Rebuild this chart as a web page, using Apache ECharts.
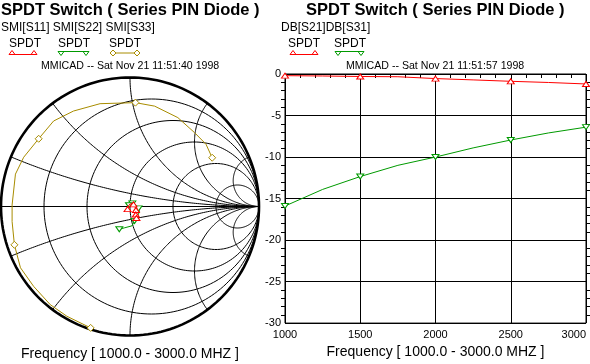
<!DOCTYPE html>
<html><head><meta charset="utf-8">
<script src="https://cdn.jsdelivr.net/npm/echarts@6/dist/echarts.min.js"></script>
<style>html,body{margin:0;padding:0;background:#fff}#c{width:590px;height:364px}</style>
</head><body><div id="c"></div>
<script>
// ---------- data ----------
const freqs = [1000, 1250, 1500, 1750, 2000, 2250, 2500, 2750, 3000];
const dbS21 = [-0.2, -0.24, -0.3, -0.33, -0.55, -0.71, -0.88, -1.02, -1.2];
const dbS31 = [-15.9, -13.9, -12.35, -11.0, -10.0, -8.9, -7.95, -7.1, -6.4];
const freqMarkerIdx = [0, 2, 4, 6, 8];

const xTicks = [1000, 1500, 2000, 2500, 3000];
const yTicks = [0, -5, -10, -15, -20, -25, -30];

// Smith chart traces (reflection coefficient re, im)
const s11Re = [-0.019, -0.008, 0.008, 0.027, 0.039, 0.046, 0.031, 0.045, 0.05];
const s11Im = [-0.020, 0.012, 0.023, 0.016, -0.004, -0.027, -0.043, -0.062, -0.089];
const s11Marker = [0, 3, 5, 7, 8];

const s22Re = [-0.083, -0.045, 0.015, 0.035, 0.058, 0.074, 0.066, 0.043, 0.018, -0.008];
const s22Im = [-0.176, -0.166, -0.150, -0.112, -0.074, -0.040, -0.015, 0.012, 0.024, 0.010];
const s22Marker = [0, 3, 6, 8, 9];

const s33Re = [-0.305, -0.489, -0.618, -0.747, -0.849, -0.896, -0.914, -0.914, -0.888, -0.824, -0.708, -0.592, -0.438, -0.232, 0.042, 0.191, 0.371, 0.500, 0.589, 0.637];
const s33Im = [-0.941, -0.851, -0.761, -0.619, -0.475, -0.297, -0.117, 0.012, 0.251, 0.382, 0.525, 0.663, 0.740, 0.797, 0.805, 0.778, 0.689, 0.573, 0.483, 0.378];
const s33Marker = [0, 5, 10, 14, 19];

// Smith grid values
const smithR = [0, 0.2, 0.5, 1, 2, 5];
const smithX = [0.2, 0.5, 1, 2, 5, -0.2, -0.5, -1, -2, -5];

const RED = '#ff0000', GREEN = '#009a00', OLIVE = '#a88c00';
const FONT = 'Liberation Sans, Arial, sans-serif';

// ---------- build ----------
const gridShapes = [{k: 'h'}];
smithR.forEach(r => gridShapes.push({k: 'r', v: r}));
smithX.forEach(x => gridShapes.push({k: 'x', v: x}));

function shapePts(s) {
  const pts = [];
  if (s.k === 'h') return [[-1, 0], [1, 0]];
  if (s.k === 'r') {
    const c = s.v / (s.v + 1), rad = 1 / (s.v + 1);
    for (let i = 0; i <= 180; i++) {
      const t = i / 180 * 2 * Math.PI;
      pts.push([c + rad * Math.cos(t), rad * Math.sin(t)]);
    }
    return pts;
  }
  const x = Math.abs(s.v), sg = Math.sign(s.v);
  const a = 1 / x;
  const px = (x * x - 1) / (x * x + 1), py = 2 * x / (x * x + 1);
  let tP = Math.atan2(py - a, px - 1);
  const t0 = -Math.PI / 2;
  if (tP > t0) tP -= 2 * Math.PI;
  for (let i = 0; i <= 120; i++) {
    const t = t0 + (tP - t0) * i / 120;
    pts.push([1 + a * Math.cos(t), sg * (a + a * Math.sin(t))]);
  }
  return pts;
}

function zip(re, im) { return re.map((v, i) => [v, im[i]]); }

function markerSym(idx, sym) {
  return (val, p) => idx.indexOf(p.dataIndex) >= 0 ? sym : 'none';
}

const chart = echarts.init(document.getElementById('c'), null, {renderer: 'canvas'});

const TITLE_FONT = 'bold 16.5px ' + FONT;
const option = {
  animation: false,
  backgroundColor: '#fff',
  textStyle: {fontFamily: FONT},
  grid: [
    {left: 1, top: 77.5, width: 258, height: 258, show: false},
    {left: 285, right: 4, top: 74, bottom: 36, show: true, borderColor: '#000', borderWidth: 1, backgroundColor: 'transparent'}
  ],
  xAxis: [
    {gridIndex: 0, type: 'value', min: -1, max: 1, show: false},
    {gridIndex: 1, type: 'value', min: 1000, max: 3000, interval: 500,
     axisLine: {show: false},
     axisTick: {show: false},
     minorTick: {show: true, splitNumber: 5, length: 4, lineStyle: {color: '#000'}},
     axisLabel: {color: '#000', fontSize: 11, fontFamily: FONT, margin: 6, alignMaxLabel: 'right',
       formatter: v => xTicks.indexOf(v) >= 0 ? String(v) : ''},
     splitLine: {show: true, lineStyle: {color: '#000', width: 1}},
     name: 'Frequency [ 1000.0 - 3000.0 MHZ ]', nameLocation: 'middle', nameGap: 20,
     nameTextStyle: {color: '#000', fontSize: 14, fontFamily: FONT}
    }
  ],
  yAxis: [
    {gridIndex: 0, type: 'value', min: -1, max: 1, show: false},
    {gridIndex: 1, type: 'value', min: -30, max: 0, interval: 5,
     axisLine: {show: false}, axisTick: {show: false},
     minorTick: {show: true, splitNumber: 5, length: 4, lineStyle: {color: '#000'}},
     axisLabel: {color: '#000', fontSize: 11, fontFamily: FONT, margin: 4,
       formatter: v => yTicks.indexOf(v) >= 0 ? String(v) : ''},
     splitLine: {show: true, lineStyle: {color: '#000', width: 1}}
    },
    {gridIndex: 1, type: 'value', min: -30, max: 0, interval: 5, position: 'right',
     axisLine: {show: false}, axisTick: {show: false}, axisLabel: {show: false},
     minorTick: {show: true, splitNumber: 5, length: 4, lineStyle: {color: '#000'}},
     splitLine: {show: false}
    }
  ],
  graphic: [
    {type: 'text', left: 1, top: 2, style: {text: 'SPDT Switch ( Series PIN Diode )', font: TITLE_FONT, fill: '#000'}},
    {type: 'text', left: 306, top: 2, style: {text: 'SPDT Switch ( Series PIN Diode )', font: TITLE_FONT, fill: '#000'}},
    {type: 'text', left: 1, top: 22, style: {text: 'SMI[S11] SMI[S22] SMI[S33]', font: '12px ' + FONT, fill: '#000'}},
    {type: 'text', left: 281, top: 22, style: {text: 'DB[S21]DB[S31]', font: '12px ' + FONT, fill: '#000'}},
    {type: 'text', left: 9, top: 38, style: {text: 'SPDT', font: '12px ' + FONT, fill: '#000'}},
    {type: 'text', left: 58, top: 38, style: {text: 'SPDT', font: '12px ' + FONT, fill: '#000'}},
    {type: 'text', left: 109, top: 38, style: {text: 'SPDT', font: '12px ' + FONT, fill: '#000'}},
    {type: 'text', left: 288, top: 38, style: {text: 'SPDT', font: '12px ' + FONT, fill: '#000'}},
    {type: 'text', left: 334, top: 38, style: {text: 'SPDT', font: '12px ' + FONT, fill: '#000'}},
    {type: 'text', left: 41, top: 61, style: {text: 'MMICAD -- Sat Nov 21 11:51:40 1998', font: '10.6px ' + FONT, fill: '#000'}},
    {type: 'text', left: 346, top: 61, style: {text: 'MMICAD -- Sat Nov 21 11:51:57 1998', font: '10.6px ' + FONT, fill: '#000'}},
    {type: 'text', x: 130, y: 354, style: {text: 'Frequency [ 1000.0 - 3000.0 MHZ ]', font: '14px ' + FONT, fill: '#000', textAlign: 'center', textVerticalAlign: 'middle'}},
    // legend samples
    {type: 'polyline', shape: {points: [[9, 54.5], [37, 54.5]]}, style: {stroke: RED, lineWidth: 1}},
    {type: 'polygon', shape: {points: [[9, 54.5], [12, 50.5], [15, 54.5]]}, style: {stroke: RED, fill: '#fff', lineWidth: 1}},
    {type: 'polygon', shape: {points: [[31, 54.5], [34, 50.5], [37, 54.5]]}, style: {stroke: RED, fill: '#fff', lineWidth: 1}},
    {type: 'polyline', shape: {points: [[59, 51.5], [88, 51.5]]}, style: {stroke: GREEN, lineWidth: 1}},
    {type: 'polygon', shape: {points: [[58, 51.5], [61, 55.5], [64, 51.5]]}, style: {stroke: GREEN, fill: '#fff', lineWidth: 1}},
    {type: 'polygon', shape: {points: [[83, 51.5], [86, 55.5], [89, 51.5]]}, style: {stroke: GREEN, fill: '#fff', lineWidth: 1}},
    {type: 'polyline', shape: {points: [[111, 53], [139, 53]]}, style: {stroke: OLIVE, lineWidth: 1}},
    {type: 'polygon', shape: {points: [[110, 53], [113, 50], [116, 53], [113, 56]]}, style: {stroke: OLIVE, fill: '#fff', lineWidth: 1}},
    {type: 'polygon', shape: {points: [[134, 53], [137, 50], [140, 53], [137, 56]]}, style: {stroke: OLIVE, fill: '#fff', lineWidth: 1}},
    {type: 'polyline', shape: {points: [[291, 54.5], [317, 54.5]]}, style: {stroke: RED, lineWidth: 1}},
    {type: 'polygon', shape: {points: [[290, 54.5], [293, 50.5], [296, 54.5]]}, style: {stroke: RED, fill: '#fff', lineWidth: 1}},
    {type: 'polygon', shape: {points: [[312, 54.5], [315, 50.5], [318, 54.5]]}, style: {stroke: RED, fill: '#fff', lineWidth: 1}},
    {type: 'polyline', shape: {points: [[336, 51.5], [363, 51.5]]}, style: {stroke: GREEN, lineWidth: 1}},
    {type: 'polygon', shape: {points: [[335, 51.5], [338, 55.5], [341, 51.5]]}, style: {stroke: GREEN, fill: '#fff', lineWidth: 1}},
    {type: 'polygon', shape: {points: [[358, 51.5], [361, 55.5], [364, 51.5]]}, style: {stroke: GREEN, fill: '#fff', lineWidth: 1}}
  ],
  series: [
    {
      type: 'custom', xAxisIndex: 0, yAxisIndex: 0, silent: true, z: 1,
      data: gridShapes.map((s, i) => [i, 0]),
      renderItem: (params, api) => {
        const s = gridShapes[params.dataIndex];
        const pts = shapePts(s).map(p => api.coord(p));
        const outer = (s.k === 'r' && s.v === 0);
        return {type: 'polyline', shape: {points: pts},
                style: {stroke: '#000', lineWidth: outer ? 2.6 : 1, fill: null}};
      }
    },
    {type: 'line', xAxisIndex: 0, yAxisIndex: 0, data: zip(s33Re, s33Im), z: 3,
     lineStyle: {color: OLIVE, width: 1}, itemStyle: {color: '#fff', borderColor: OLIVE, borderWidth: 1},
     symbol: markerSym(s33Marker, 'diamond'), symbolSize: 7},
    {type: 'line', xAxisIndex: 0, yAxisIndex: 0, data: zip(s22Re, s22Im), z: 3,
     lineStyle: {color: GREEN, width: 1}, itemStyle: {color: '#fff', borderColor: GREEN, borderWidth: 1},
     symbol: markerSym(s22Marker, 'triangle'), symbolRotate: 180, symbolSize: [7, 5]},
    {type: 'line', xAxisIndex: 0, yAxisIndex: 0, data: zip(s11Re, s11Im), z: 4,
     lineStyle: {color: RED, width: 1}, itemStyle: {color: '#fff', borderColor: RED, borderWidth: 1},
     symbol: markerSym(s11Marker, 'triangle'), symbolSize: [7, 5]},
    {type: 'line', xAxisIndex: 1, yAxisIndex: 1, data: freqs.map((f, i) => [f, dbS21[i]]), z: 3,
     lineStyle: {color: RED, width: 1}, itemStyle: {color: '#fff', borderColor: RED, borderWidth: 1},
     symbol: markerSym(freqMarkerIdx, 'triangle'), symbolSize: [7, 5], clip: false},
    {type: 'line', xAxisIndex: 1, yAxisIndex: 1, data: freqs.map((f, i) => [f, dbS31[i]]), z: 3,
     lineStyle: {color: GREEN, width: 1}, itemStyle: {color: '#fff', borderColor: GREEN, borderWidth: 1},
     symbol: markerSym(freqMarkerIdx, 'triangle'), symbolRotate: 180, symbolSize: [7, 5], clip: false}
  ]
};
chart.setOption(option);
</script>
</body></html>
